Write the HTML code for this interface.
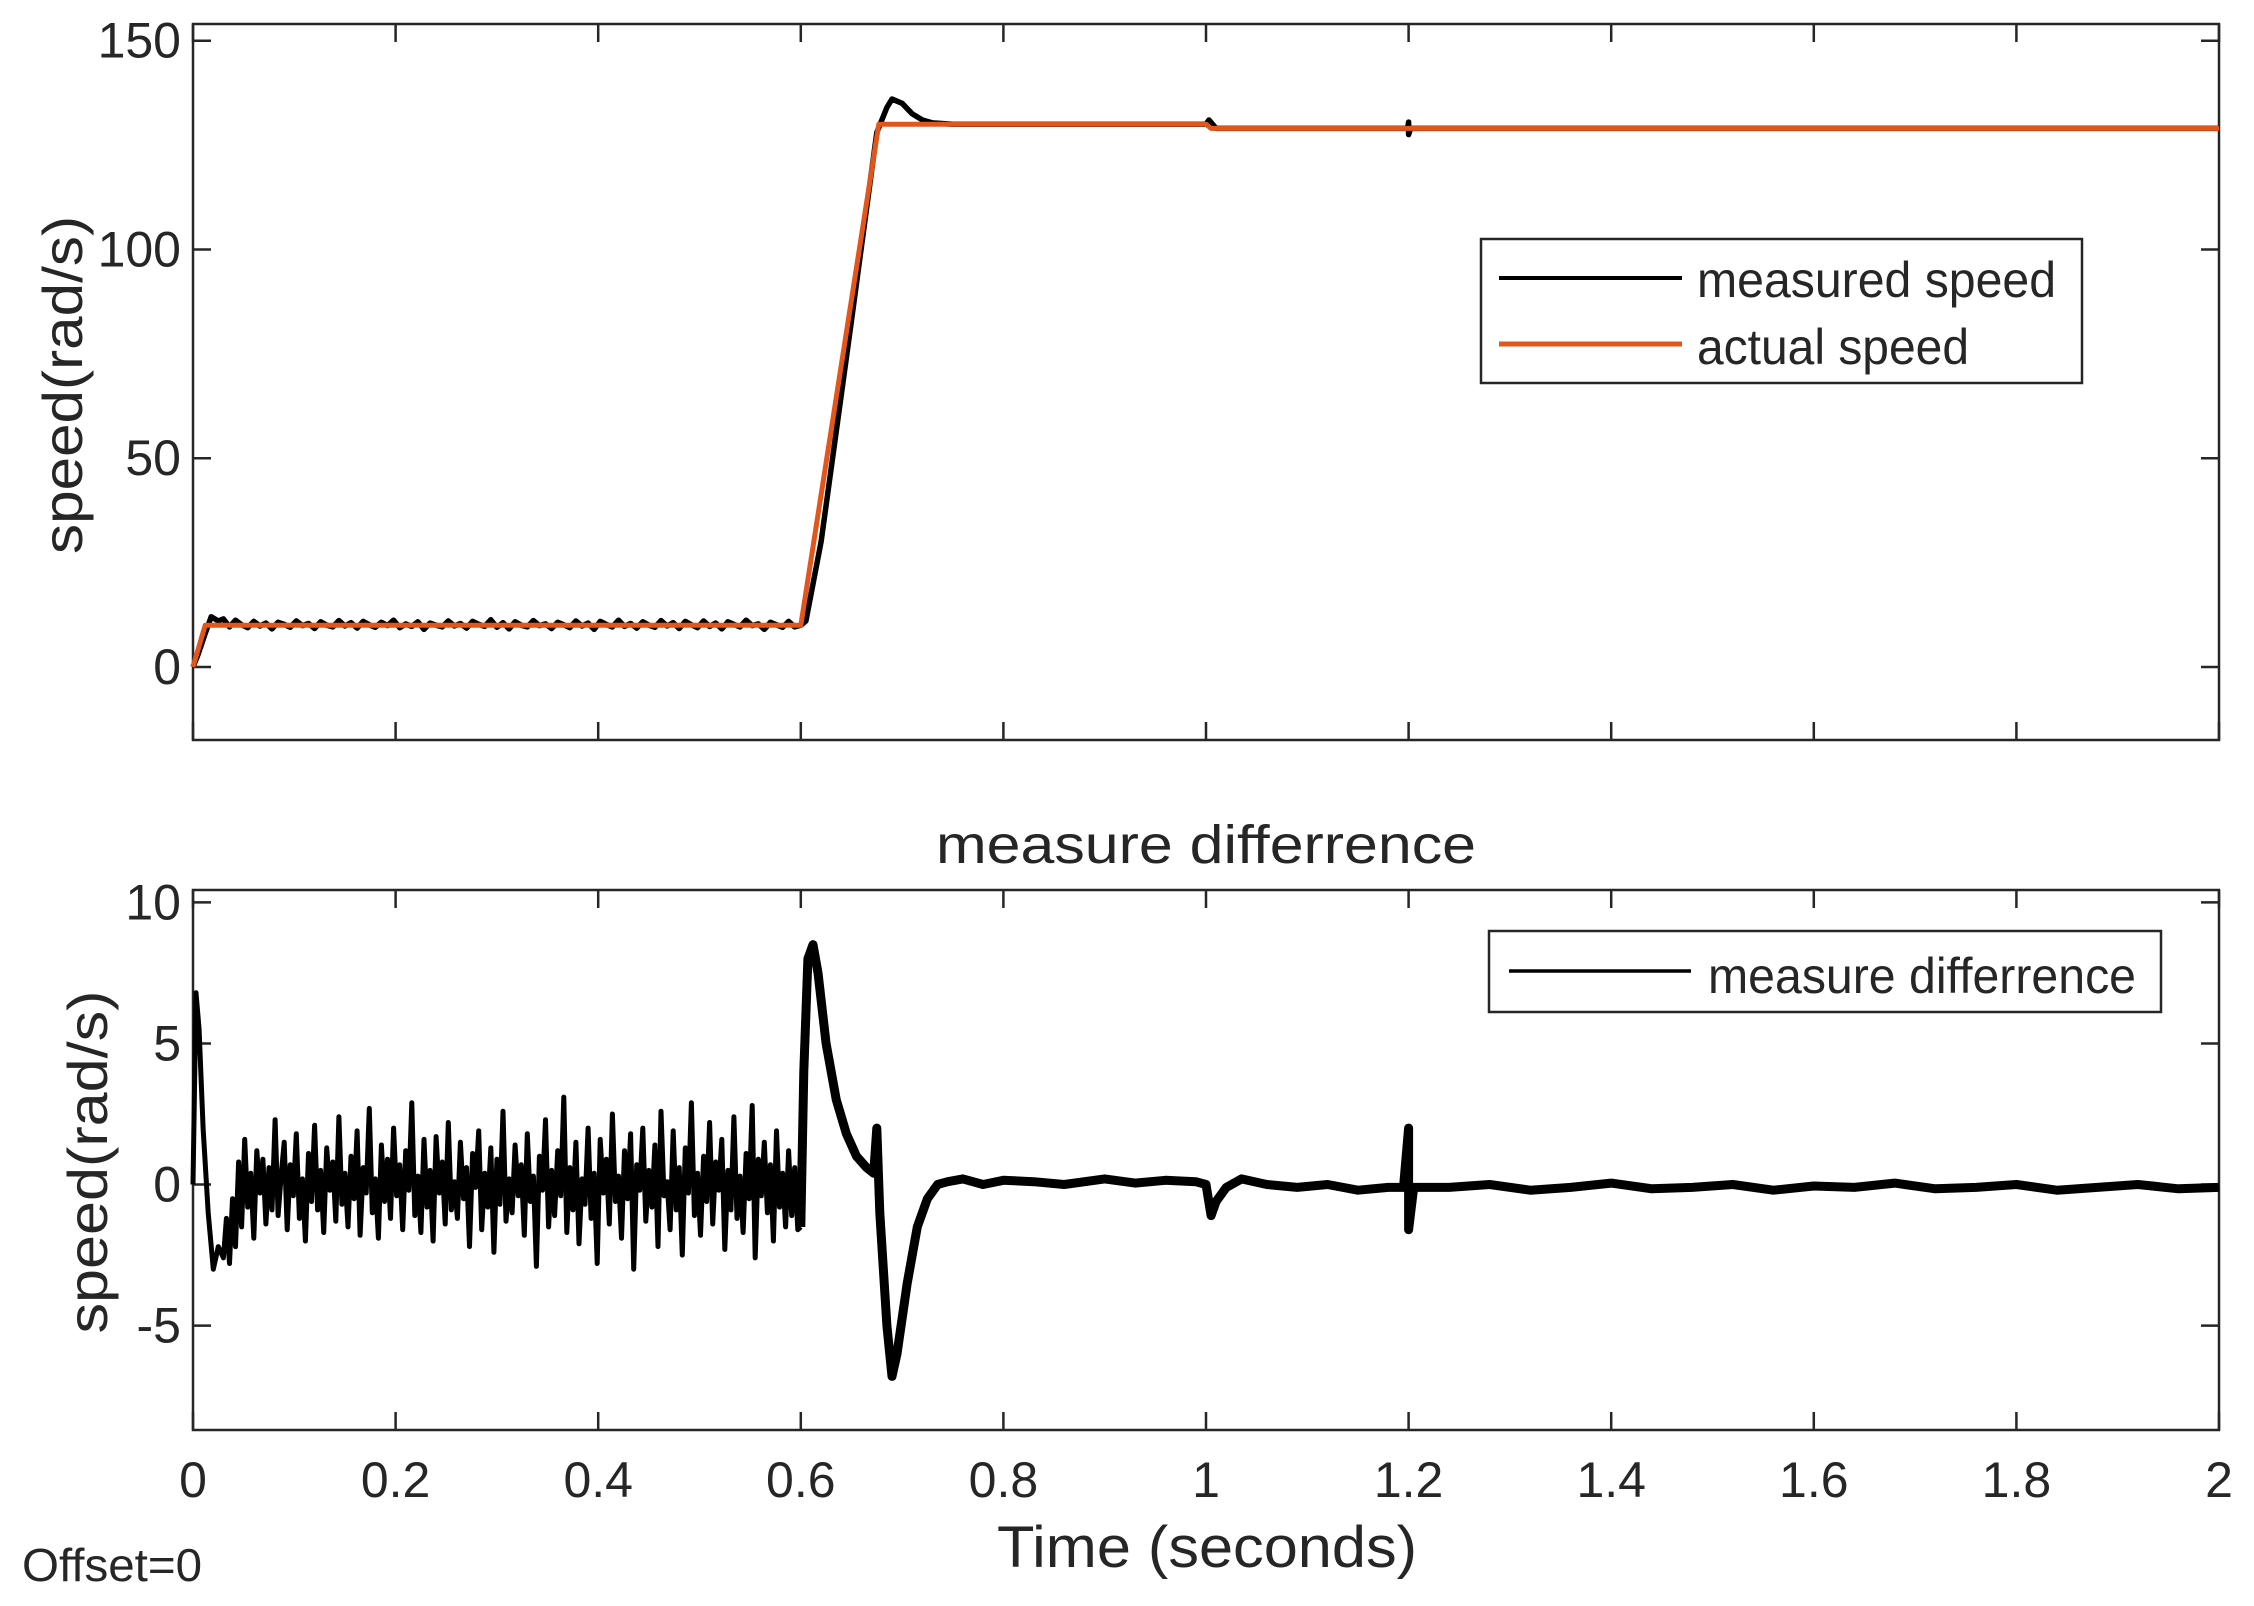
<!DOCTYPE html>
<html><head><meta charset="utf-8"><style>
html,body{margin:0;padding:0;background:#fff}
svg{display:block}
text{font-family:"Liberation Sans",Arial,sans-serif;fill:#262626}
</style></head><body>
<svg id="chart" width="2254" height="1606" viewBox="0 0 2254 1606" xmlns="http://www.w3.org/2000/svg">
<rect width="2254" height="1606" fill="#fff"/>
<g id="top"></g>
<g id="bot"></g>
<text x="1206" y="863" font-size="54" text-anchor="middle" textLength="540" lengthAdjust="spacingAndGlyphs">measure differrence</text>
<text x="1207" y="1567" font-size="58" text-anchor="middle" textLength="420" lengthAdjust="spacingAndGlyphs">Time (seconds)</text>
<text x="22" y="1581" font-size="46" textLength="180" lengthAdjust="spacingAndGlyphs">Offset=0</text>
<text transform="translate(82,385) rotate(-90)" font-size="56" text-anchor="middle" textLength="338" lengthAdjust="spacingAndGlyphs">speed(rad/s)</text>
<text transform="translate(107,1162) rotate(-90)" font-size="56" text-anchor="middle" textLength="343" lengthAdjust="spacingAndGlyphs">speed(rad/s)</text>
</svg>
<script>
// ---- data ----
const xTicks = [0,0.2,0.4,0.6,0.8,1,1.2,1.4,1.6,1.8,2];
const xTickLabels = ["0","0.2","0.4","0.6","0.8","1","1.2","1.4","1.6","1.8","2"];
const topYTicks = [0,50,100,150];
const botYTicks = [-5,0,5,10];

const actualT = [0,0.012,0.6,0.677,1.0,1.005,2.0];
const actualV = [0,10,10,130,130,129,129];

const measHeadT = [0,0.005,0.012,0.018,0.025];
const measHeadV = [0,3,8,12,11];
const measNoiseStart = 0.03, measNoiseStep = 0.006;
const measNoiseV = [11.5,9.6,11.2,10.1,9.4,10.9,9.8,10.5,9.1,10.7,
10.2,9.5,11.0,9.9,10.4,9.2,10.8,10.0,9.6,11.1,
9.8,10.6,9.3,10.9,10.1,9.5,10.7,9.9,11.2,9.4,
10.3,9.7,10.8,9.0,10.5,10.0,9.6,11.0,9.8,10.4,
9.3,10.9,10.2,9.7,11.3,9.5,10.6,9.1,10.8,10.0,
9.6,11.1,9.9,10.3,9.2,10.7,10.1,9.4,11.0,9.8,
10.5,9.0,10.9,10.2,9.6,11.2,9.7,10.4,9.3,10.8,
10.0,9.5,11.1,9.8,10.6,9.2,10.9,10.1,9.4,11.0,
9.7,10.5,9.1,10.8,10.2,9.6,11.2,9.9,10.3,9.0,
10.7,10.1,9.5,10.9,9.6];
const measTailT = [0.6,0.605,0.62,0.65,0.675,0.685,0.69,0.7,0.71,0.72,0.73,0.75,0.8,0.9,1.0,1.003,1.01,1.1,1.199,1.2,1.2,1.202,1.3,2.0];
const measTailV = [10,11,30,83,128,134,136,135,132.5,131,130.3,130,130,130,130,131,129,129,129,130.5,127.5,129,129,129];

const diffHeadT = [0,0.003,0.006,0.01,0.015,0.02,0.025];
const diffHeadV = [0,6.8,5.5,2,-1,-3,-2.2];
const diffNoiseStart = 0.03, diffNoiseStep = 0.003;
const diffNoiseV = [-2.6,-1.2,-2.8,-0.5,-2.2,0.8,-1.5,1.6,-0.8,0.4,
-1.9,1.2,-0.3,0.9,-1.4,0.6,-0.9,2.3,-1.1,0.3,
1.5,-1.6,0.7,-0.4,1.8,-1.2,0.2,-2.0,1.1,-0.6,
2.1,-0.9,0.5,-1.7,1.3,-0.2,0.8,-1.3,2.4,-0.7,
0.4,-1.5,1.0,-0.5,1.9,-1.8,0.6,-0.3,2.7,-1.0,
0.2,-1.9,1.4,-0.6,0.9,-1.2,2.0,-0.4,0.7,-1.6,
1.2,-0.2,2.9,-1.1,0.3,-1.7,1.6,-0.8,0.5,-2.0,
1.7,-0.3,0.8,-1.4,2.2,-0.9,0.1,-1.2,1.5,-0.5,
0.6,-2.2,1.1,-0.1,1.9,-1.6,0.4,-0.8,1.3,-2.4,
0.9,-0.7,2.6,-1.3,0.2,-1.0,1.4,-0.4,0.7,-1.8,
1.8,-0.6,0.3,-2.9,1.0,-0.2,2.3,-1.5,0.5,-1.1,
1.2,-0.4,3.1,-1.7,0.6,-0.9,1.5,-2.1,0.2,-0.7,
2.0,-1.2,0.4,-2.8,1.6,-0.3,0.9,-1.4,2.5,-0.6,
0.3,-1.9,1.2,-0.5,1.8,-3.0,0.7,-0.2,2.0,-1.3,
0.5,-0.8,1.4,-2.2,2.6,-0.4,0.1,-1.6,1.9,-0.9,
0.6,-2.5,1.3,-0.3,2.9,-1.1,0.4,-1.8,1.0,-0.6,
2.2,-1.4,0.8,-0.2,1.6,-2.3,0.5,-0.9,2.4,-1.2,
0.3,-1.7,1.1,-0.5,2.8,-2.6,0.9,-0.4,1.5,-1.0,
0.7,-2.0,1.9,-0.8,0.4,-1.5,1.2,-1.1,0.6,-1.6];
const diffMidT = [0.6,0.603,0.607,0.612,0.617,0.625,0.635,0.645,0.655,0.665,0.672,0.675,0.678,0.685,0.69,0.695,0.705,0.715,0.725,0.735,0.745,0.76,0.78,0.8,0.83,0.86,0.9,0.93,0.96,0.99,1.0,1.005,1.01,1.02,1.035,1.06,1.09,1.12,1.15,1.18,1.195,1.2,1.2,1.205,1.22];
const diffMidV = [-1.5,4,8,8.5,7.5,5,3,1.8,1.0,0.6,0.4,2.0,-1,-5,-6.8,-6,-3.5,-1.5,-0.5,0,0.1,0.2,0.0,0.15,0.1,0.0,0.2,0.05,0.15,0.1,0.0,-1.1,-0.6,-0.1,0.2,0.0,-0.1,0.0,-0.2,-0.1,-0.1,2.0,-1.6,-0.1,-0.1];
const diffTailStart = 1.24, diffTailStep = 0.04;
const diffTailV = [-0.1,0.0,-0.2,-0.1,0.05,-0.15,-0.1,0.0,-0.2,-0.05,-0.1,0.05,-0.15,-0.1,0.0,-0.2,-0.1,0.0,-0.15,-0.1];

// ---- layout ----
const NS = "http://www.w3.org/2000/svg";
const X0 = 193, X1 = 2219, T0 = 0, T1 = 2;
const xs = t => X0 + (t - T0) / (T1 - T0) * (X1 - X0);
const topBox = {y0: 24, y1: 740, vmin: -17.5, vmax: 154};
const botBox = {y0: 890, y1: 1430, vmin: -8.7, vmax: 10.44};
const ys = (b, v) => b.y1 - (v - b.vmin) / (b.vmax - b.vmin) * (b.y1 - b.y0);

function mk(tag, parent, attrs) {
  const e = document.createElementNS(NS, tag);
  for (const k in attrs) e.setAttribute(k, attrs[k]);
  parent.appendChild(e);
  return e;
}
function seq(start, step, n) { const a = []; for (let i = 0; i < n; i++) a.push(start + i * step); return a; }
function pathD(b, T, V) { return T.map((t, i) => (i ? "L" : "M") + xs(t).toFixed(1) + "," + ys(b, V[i]).toFixed(1)).join(""); }

function axes(g, b, yTicks, showX, nm) {
  const box = mk("rect", g, {x: X0, y: b.y0, width: X1 - X0, height: b.y1 - b.y0, fill: "none", stroke: "#262626", "stroke-width": 2.5});
  
  
  xTicks.forEach((t, i) => {
    const x = xs(t);
    const tk = mk("path", g, {d: `M${x},${b.y1}V${b.y1 - 18}M${x},${b.y0}V${b.y0 + 18}`, stroke: "#262626", "stroke-width": 2.5});
    
    
    if (showX) {
      const lb = mk("text", g, {x: x, y: 1497, "font-size": 50, "text-anchor": "middle"});
      lb.textContent = xTickLabels[i];
      
      
    }
  });
  yTicks.forEach(v => {
    const y = ys(b, v);
    const tk = mk("path", g, {d: `M${X0},${y}H${X0 + 18}M${X1},${y}H${X1 - 18}`, stroke: "#262626", "stroke-width": 2.5});
    
    
    const lb = mk("text", g, {x: 181, y: y + 17, "font-size": 50, "text-anchor": "end"});
    lb.textContent = String(v);
    
    
  });
}

// top plot
const gt = document.getElementById("top");
axes(gt, topBox, topYTicks, false, "top");
const measT = measHeadT.concat(seq(measNoiseStart, measNoiseStep, measNoiseV.length), measTailT);
const measV = measHeadV.concat(measNoiseV, measTailV);
const mline = mk("path", gt, {d: pathD(topBox, measT, measV), fill: "none", stroke: "#000", "stroke-width": 5.5, "stroke-linejoin": "round"});


const aline = mk("path", gt, {d: pathD(topBox, actualT, actualV), fill: "none", stroke: "#E2561C", "stroke-width": 5, "stroke-linejoin": "round"});



// top legend
const lg = mk("g", gt, {});


mk("rect", lg, {x: 1481, y: 239, width: 601, height: 144, fill: "#fff", stroke: "#262626", "stroke-width": 2.5});
const l1 = mk("path", lg, {d: "M1499,278H1682", stroke: "#000", "stroke-width": 4});


const t1 = mk("text", lg, {x: 1697, y: 297, "font-size": 50, textLength: 359, lengthAdjust: "spacingAndGlyphs"});
t1.textContent = "measured speed";


const l2 = mk("path", lg, {d: "M1499,344H1682", stroke: "#E2561C", "stroke-width": 5});


const t2 = mk("text", lg, {x: 1697, y: 364, "font-size": 50, textLength: 272, lengthAdjust: "spacingAndGlyphs"});
t2.textContent = "actual speed";



// bottom plot
const gb = document.getElementById("bot");
axes(gb, botBox, botYTicks, true, "bottom");
const dT1 = diffHeadT.concat(seq(diffNoiseStart, diffNoiseStep, diffNoiseV.length), [diffMidT[0]]);
const dV1 = diffHeadV.concat(diffNoiseV, [diffMidV[0]]);
const d1 = mk("path", gb, {d: pathD(botBox, dT1, dV1), fill: "none", stroke: "#000", "stroke-width": 5, "stroke-linejoin": "round"});


const dT2 = diffMidT.concat(seq(diffTailStart, diffTailStep, diffTailV.length));
const dV2 = diffMidV.concat(diffTailV);
const d2 = mk("path", gb, {d: pathD(botBox, dT2, dV2), fill: "none", stroke: "#000", "stroke-width": 9, "stroke-linejoin": "round"});



const lg2 = mk("g", gb, {});


mk("rect", lg2, {x: 1489, y: 931, width: 672, height: 81, fill: "#fff", stroke: "#262626", "stroke-width": 2.5});
const l3 = mk("path", lg2, {d: "M1509,971H1691", stroke: "#000", "stroke-width": 3.5});


const t3 = mk("text", lg2, {x: 1708, y: 993, "font-size": 50, textLength: 428, lengthAdjust: "spacingAndGlyphs"});
t3.textContent = "measure differrence";


</script>
</body></html>
